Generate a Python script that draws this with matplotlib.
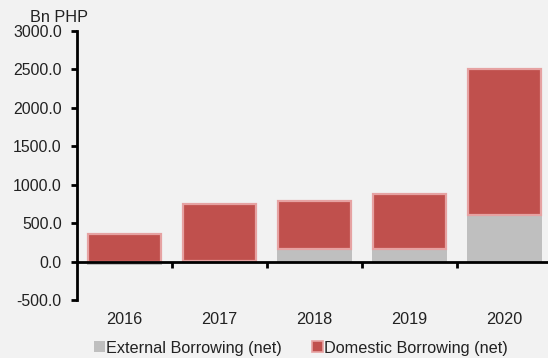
import matplotlib.pyplot as plt
from matplotlib.patches import Patch
from matplotlib.ticker import FixedLocator

years = ["2016", "2017", "2018", "2019", "2020"]
external_borrowing = [-50.0, 5.0, 170.0, 170.0, 600.0]
domestic_borrowing = [357.0, 750.0, 615.0, 710.0, 1905.0]
y_ticks = [-500, 0, 500, 1000, 1500, 2000, 2500, 3000]

GREY = "#BFBFBF"
RED = "#C0504D"
RED_EDGE = "#E6A2A2"
BACKGROUND = "#F2F2F2"
TEXT = "#222222"

plt.rcParams["font.family"] = ["Liberation Sans", "DejaVu Sans"]

fig = plt.figure(figsize=(5.48, 3.58), dpi=100, facecolor=BACKGROUND)
ax = fig.add_axes([77 / 548, 58 / 358, 475 / 548, 269 / 358])
ax.set_facecolor(BACKGROUND)

x = list(range(len(years)))
# Excel-style stacking: negative values go below zero, positives stack upward
domestic_bottom = [max(v, 0) for v in external_borrowing]
ax.bar(x, external_borrowing, width=0.78, color=GREY, linewidth=0)
ax.bar(x, domestic_borrowing, width=0.76, bottom=domestic_bottom, color=RED,
       edgecolor=RED_EDGE, linewidth=1.6)

ax.set_xlim(-0.5, len(years) - 0.5)
ax.set_ylim(-500, 3000)
ax.set_yticks(y_ticks)
ax.set_yticklabels([f"{v:.1f}" for v in y_ticks], fontsize=11.4, color=TEXT)

for side in ("top", "right"):
    ax.spines[side].set_visible(False)
ax.spines["left"].set_linewidth(2)
ax.spines["bottom"].set_linewidth(2)
ax.spines["bottom"].set_position(("data", 0))

ax.tick_params(axis="y", direction="out", length=4, width=2, pad=7)
ax.set_xticks(x)
ax.set_xticklabels(years, fontsize=11.7, color=TEXT)
ax.xaxis.set_minor_locator(FixedLocator([i + 0.5 for i in x[:-1]]))
ax.tick_params(axis="x", which="major", length=0, pad=36)
ax.tick_params(axis="x", which="minor", direction="out", length=4, width=2)

fig.text(59 / 548, 1 - 18 / 358, "Bn PHP", fontsize=11.7, color=TEXT,
         ha="center", va="center")

handles = [
    Patch(facecolor=GREY, label="External Borrowing (net)"),
    Patch(facecolor=RED, edgecolor=RED_EDGE, linewidth=1.2,
          label="Domestic Borrowing (net)"),
]
fig.legend(handles=handles, loc="center", bbox_to_anchor=(301 / 548, 1 - 348 / 358),
           ncol=2, frameon=False, fontsize=11.7, handlelength=0.65, handleheight=0.65,
           handletextpad=0.1, columnspacing=1.85, labelcolor=TEXT,
           borderpad=0, borderaxespad=0)

fig.savefig("out.png", dpi=100, facecolor=BACKGROUND)
plt.close(fig)
